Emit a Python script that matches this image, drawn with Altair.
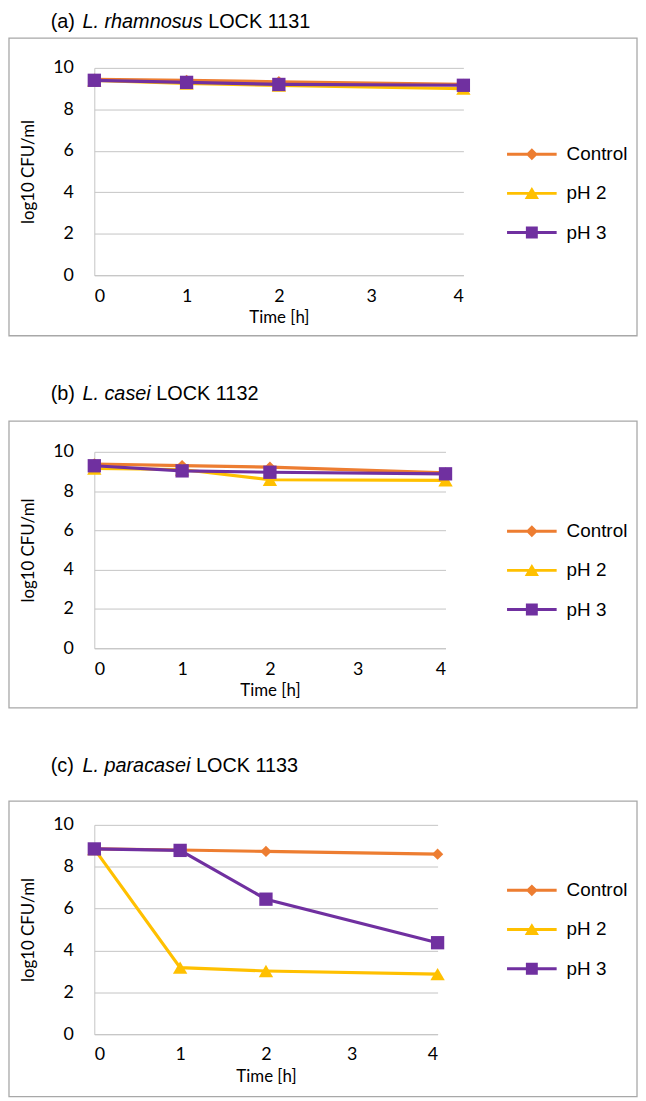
import altair as alt
import pandas as pd

# ---------------- data ----------------
times = [0, 1, 2, 4]
series_names = ["Control", "pH 2", "pH 3"]
series_colors = ["#ED7D31", "#FFC000", "#7030A0"]

a_control = [9.45, 9.40, 9.33, 9.20]
a_ph2 = [9.40, 9.25, 9.15, 9.00]
a_ph3 = [9.40, 9.30, 9.20, 9.16]

b_control = [9.38, 9.30, 9.22, 8.93]
b_ph2 = [9.15, 9.10, 8.58, 8.55]
b_ph3 = [9.29, 9.03, 8.96, 8.88]

c_control = [8.85, 8.80, 8.73, 8.60]
c_ph2 = [8.85, 3.18, 3.02, 2.87]
c_ph3 = [8.85, 8.78, 6.45, 4.37]

x_ticks = [0, 1, 2, 3, 4]
y_ticks = [0, 2, 4, 6, 8, 10]

panel_labels = ["(a)", "(b)", "(c)"]
panel_species = ["L. rhamnosus", "L. casei", "L. paracasei"]
panel_strains = ["LOCK 1131", "LOCK 1132", "LOCK 1133"]

# ---------------- style ----------------
GRID = "#c4c4c4"
FRAME = "#a8a8a8"
AXFONT = "Lato"
TFONT = "Liberation Sans"
TSIZE = 20
# Arial/Liberation Sans advance widths (per 1000 em) for laying out the title pieces
ADV = {"L": 556, ".": 278, " ": 278, "r": 333, "h": 556, "a": 556, "m": 833, "n": 556,
       "o": 556, "s": 500, "u": 556, "c": 500, "e": 556, "i": 222, "p": 556}
plot_shapes = ["diamond", "triangle-up", "square"]
plot_sizes = [130, 210, 180]
legend_paths = [
    "M-1.25,-0.075L1.25,-0.075L1.25,0.075L-1.25,0.075Z M0,-0.3L0.3,0L0,0.3L-0.3,0Z",
    "M-1.25,-0.075L1.25,-0.075L1.25,0.075L-1.25,0.075Z M0,-0.32L0.36,0.28L-0.36,0.28Z",
    "M-1.25,-0.075L1.25,-0.075L1.25,0.075L-1.25,0.075Z M-0.3,-0.3L0.3,-0.3L0.3,0.3L-0.3,0.3Z",
]


def text_width(s, size):
    return sum(ADV.get(ch, 556) for ch in s) / 1000.0 * size


def legend_def(legend_y):
    return alt.Legend(orient="none", legendX=421, legendY=legend_y, title=None,
                      symbolSize=1600, symbolOpacity=1, symbolStrokeWidth=0,
                      labelFont=TFONT, labelFontSize=19, labelColor="#000",
                      labelOffset=15, rowPadding=9.5, padding=0)


def panel(idx, values, w, h, title_y, frame_top, frame_bottom, legend_y):
    ctrl, ph2, ph3 = values
    df = pd.DataFrame({
        "Time": times * 3,
        "Value": ctrl + ph2 + ph3,
        "Series": [s for s in series_names for _ in times],
    })
    x = alt.X("Time:Q", scale=alt.Scale(domain=[0, 4], nice=False),
              axis=alt.Axis(values=x_ticks, format="d", title="Time [h]", grid=False,
                            ticks=False, tickSize=0, domainColor=GRID, domainWidth=1,
                            labelPadding=12, titlePadding=5, labelFont=AXFONT,
                            labelFontSize=18, titleFont=AXFONT, titleFontSize=17,
                            titleFontWeight="normal", labelColor="#000", titleColor="#000"))
    y = alt.Y("Value:Q", scale=alt.Scale(domain=[0, 10], nice=False),
              axis=alt.Axis(values=y_ticks, title="log10 CFU/ml", grid=True, gridColor=GRID,
                            gridWidth=1, ticks=False, tickSize=0, domainColor=GRID,
                            domainWidth=1, labelPadding=21, titlePadding=15,
                            labelFont=AXFONT, labelFontSize=18, titleFont=AXFONT,
                            titleFontSize=17, titleFontWeight="normal",
                            labelColor="#000", titleColor="#000"))
    base = alt.Chart(df)
    layers = []
    one = alt.Data(values=[{}])
    # frame
    layers.append(
        alt.Chart(one).mark_rect(filled=False, stroke=FRAME, strokeWidth=1.3)
        .encode(x=alt.value(-86), x2=alt.value(547), y=alt.value(frame_top), y2=alt.value(frame_bottom))
    )
    # title pieces
    species_x = -12
    strain_x = species_x + text_width(panel_species[idx] + " ", TSIZE)
    layers.append(alt.Chart(one).mark_text(
        text=panel_labels[idx], align="left", baseline="middle", font=TFONT, fontSize=TSIZE, color="#000"
    ).encode(x=alt.value(-44), y=alt.value(title_y)))
    layers.append(alt.Chart(one).mark_text(
        text=panel_species[idx], align="left", baseline="middle", font=TFONT, fontSize=TSIZE,
        fontStyle="italic", color="#000"
    ).encode(x=alt.value(species_x), y=alt.value(title_y)))
    layers.append(alt.Chart(one).mark_text(
        text=panel_strains[idx], align="left", baseline="middle", font=TFONT, fontSize=TSIZE, color="#000"
    ).encode(x=alt.value(strain_x), y=alt.value(title_y)))
    # series
    for s, col, shp, sz in zip(series_names, series_colors, plot_shapes, plot_sizes):
        sub = base.transform_filter(alt.datum.Series == s)
        layers.append(sub.mark_line(color=col, strokeWidth=3.2).encode(x=x, y=y))
        layers.append(sub.mark_point(shape=shp, size=sz, filled=True, color=col, opacity=1,
                                     strokeWidth=0).encode(x=x, y=y))
    # legend layer (invisible marks, visible legend)
    leg = alt.Chart(pd.DataFrame({"Series": series_names})).mark_point(
        filled=True, opacity=0
    ).encode(
        color=alt.Color("Series:N", scale=alt.Scale(domain=series_names, range=series_colors),
                        legend=legend_def(legend_y)),
        shape=alt.Shape("Series:N", scale=alt.Scale(domain=series_names, range=legend_paths),
                        legend=legend_def(legend_y)),
    )
    layers.append(leg)
    return alt.layer(*layers).properties(width=w, height=h)


pa = panel(0, (a_control, a_ph2, a_ph3), 372, 209, -46, -30, 270, 67)
pb = panel(1, (b_control, b_ph2, b_ph3), 354, 198, -58, -31, 258, 60)
pc = panel(2, (c_control, c_ph2, c_ph3), 346, 211, -59, -24, 274, 46)

chart = alt.vconcat(pa, pb, pc, spacing=48).resolve_scale(
    x="independent", y="independent", color="independent", shape="independent"
).resolve_legend(color="independent", shape="independent").properties(
    padding=0
).configure_view(strokeWidth=0)

chart.save("out.html", embed_options={"renderer": "svg", "actions": False})
